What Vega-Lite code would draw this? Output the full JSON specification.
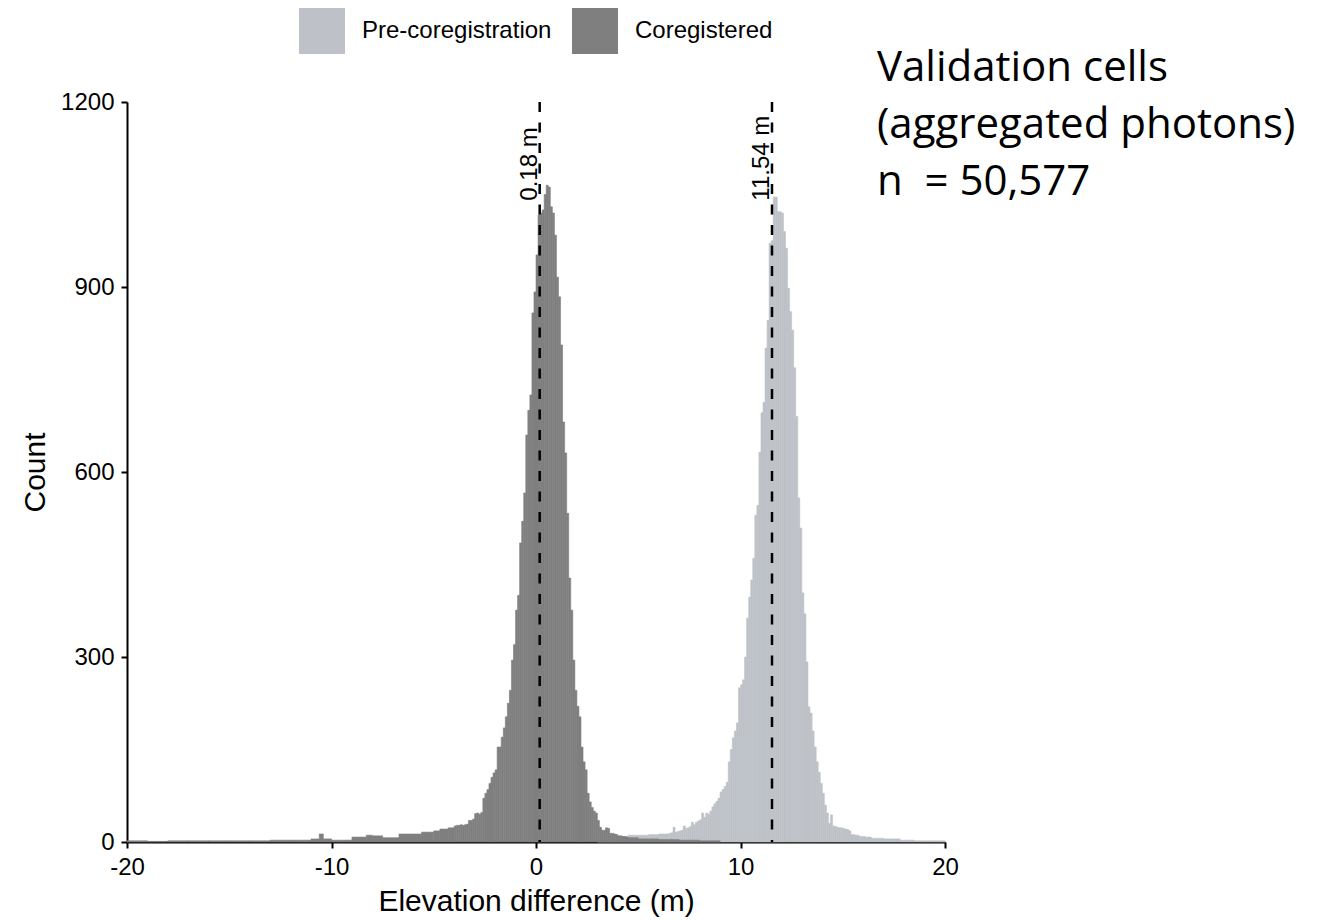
{
"$schema": "https://vega.github.io/schema/vega-lite/v6.json",
"width": 818, "height": 740,
"padding": {"left": 20, "top": 8, "right": 5, "bottom": 5},
"datasets": {
"pre": [
{"a":3.0,"b":3.5,"n":3},{"a":3.5,"b":4.0,"n":5},{"a":4.0,"b":4.5,"n":9},{"a":4.5,"b":5.0,"n":11},{"a":5.0,"b":5.5,"n":11},{"a":5.5,"b":6.0,"n":12},{"a":6.0,"b":6.5,"n":13},
{"a":6.5,"b":6.6,"n":14},{"a":6.6,"b":6.7,"n":15},{"a":6.7,"b":6.8,"n":24},{"a":6.8,"b":6.9,"n":16},{"a":6.9,"b":7.0,"n":17},
{"a":7.0,"b":7.1,"n":18},{"a":7.1,"b":7.2,"n":19},{"a":7.2,"b":7.3,"n":26},{"a":7.3,"b":7.4,"n":22},{"a":7.4,"b":7.5,"n":23},
{"a":7.5,"b":7.6,"n":25},{"a":7.6,"b":7.7,"n":32},{"a":7.7,"b":7.8,"n":28},{"a":7.8,"b":7.9,"n":32},{"a":7.9,"b":8.0,"n":34},
{"a":8.0,"b":8.1,"n":36},{"a":8.1,"b":8.2,"n":47},{"a":8.2,"b":8.3,"n":40},{"a":8.3,"b":8.4,"n":47},{"a":8.4,"b":8.5,"n":45},
{"a":8.5,"b":8.6,"n":50},{"a":8.6,"b":8.7,"n":57},{"a":8.7,"b":8.8,"n":62},{"a":8.8,"b":8.9,"n":66},{"a":8.9,"b":9.0,"n":71},
{"a":9.0,"b":9.1,"n":81},{"a":9.1,"b":9.2,"n":85},{"a":9.2,"b":9.3,"n":90},{"a":9.3,"b":9.4,"n":97},{"a":9.4,"b":9.5,"n":130},
{"a":9.5,"b":9.6,"n":150},{"a":9.6,"b":9.7,"n":169},{"a":9.7,"b":9.8,"n":180},{"a":9.8,"b":9.9,"n":193},{"a":9.9,"b":10.0,"n":250},
{"a":10.0,"b":10.1,"n":255},{"a":10.1,"b":10.2,"n":263},{"a":10.2,"b":10.3,"n":300},{"a":10.3,"b":10.4,"n":363},{"a":10.4,"b":10.5,"n":397},
{"a":10.5,"b":10.6,"n":425},{"a":10.6,"b":10.7,"n":460},{"a":10.7,"b":10.8,"n":530},{"a":10.8,"b":10.9,"n":546},{"a":10.9,"b":11.0,"n":632},
{"a":11.0,"b":11.1,"n":696},{"a":11.1,"b":11.2,"n":713},{"a":11.2,"b":11.3,"n":801},{"a":11.3,"b":11.4,"n":846},{"a":11.4,"b":11.5,"n":971},
{"a":11.5,"b":11.6,"n":975},{"a":11.6,"b":11.7,"n":1046},{"a":11.7,"b":11.8,"n":1046},{"a":11.8,"b":11.9,"n":1022},{"a":11.9,"b":12.0,"n":1022},
{"a":12.0,"b":12.1,"n":1020},{"a":12.1,"b":12.2,"n":990},{"a":12.2,"b":12.3,"n":963},{"a":12.3,"b":12.4,"n":898},{"a":12.4,"b":12.5,"n":860},
{"a":12.5,"b":12.6,"n":830},{"a":12.6,"b":12.7,"n":769},{"a":12.7,"b":12.8,"n":690},{"a":12.8,"b":12.9,"n":558},{"a":12.9,"b":13.0,"n":509},
{"a":13.0,"b":13.1,"n":404},{"a":13.1,"b":13.2,"n":370},{"a":13.2,"b":13.3,"n":292},{"a":13.3,"b":13.4,"n":219},{"a":13.4,"b":13.5,"n":209},
{"a":13.5,"b":13.6,"n":180},{"a":13.6,"b":13.7,"n":154},{"a":13.7,"b":13.8,"n":130},{"a":13.8,"b":13.9,"n":113},{"a":13.9,"b":14.0,"n":95},
{"a":14.0,"b":14.1,"n":79},{"a":14.1,"b":14.2,"n":60},{"a":14.2,"b":14.3,"n":47},{"a":14.3,"b":14.4,"n":30},{"a":14.4,"b":14.5,"n":44},
{"a":14.5,"b":14.6,"n":26},{"a":14.6,"b":14.7,"n":25},{"a":14.7,"b":14.8,"n":24},{"a":14.8,"b":14.9,"n":23},{"a":14.9,"b":15.0,"n":23},
{"a":15.0,"b":15.1,"n":22},{"a":15.1,"b":15.2,"n":21},{"a":15.2,"b":15.3,"n":20},{"a":15.3,"b":15.4,"n":18},
{"a":15.4,"b":15.6,"n":12},{"a":15.6,"b":15.8,"n":11},{"a":15.8,"b":16.1,"n":9},{"a":16.1,"b":16.4,"n":8},{"a":16.4,"b":17.0,"n":6},
{"a":17.0,"b":17.8,"n":5},{"a":17.8,"b":18.5,"n":3},{"a":18.5,"b":19.3,"n":2},{"a":19.3,"b":20.0,"n":2}
],
"coreg": [
{"a":-20,"b":-19,"n":2},{"a":-19,"b":-18,"n":1},{"a":-18,"b":-17,"n":2},{"a":-17,"b":-16,"n":2},{"a":-16,"b":-15,"n":2},
{"a":-15,"b":-14,"n":2},{"a":-14,"b":-13,"n":2},{"a":-13,"b":-12,"n":3},{"a":-12,"b":-11,"n":3},{"a":-11,"b":-10.6,"n":5},
{"a":-10.6,"b":-10.4,"n":13},{"a":-10.4,"b":-10,"n":5},{"a":-10,"b":-9,"n":3},{"a":-9,"b":-8.3,"n":8},{"a":-8.3,"b":-8,"n":11},
{"a":-8,"b":-7.5,"n":10},{"a":-7.5,"b":-6.7,"n":7},{"a":-6.7,"b":-5.6,"n":13},{"a":-5.6,"b":-5,"n":16},{"a":-5,"b":-4.7,"n":18},
{"a":-4.7,"b":-4.3,"n":21},{"a":-4.3,"b":-4.0,"n":23},
{"a":-4.0,"b":-3.9,"n":26},{"a":-3.9,"b":-3.8,"n":27},{"a":-3.8,"b":-3.7,"n":27},{"a":-3.7,"b":-3.6,"n":28},{"a":-3.6,"b":-3.5,"n":27},
{"a":-3.5,"b":-3.4,"n":28},{"a":-3.4,"b":-3.3,"n":29},{"a":-3.3,"b":-3.2,"n":35},{"a":-3.2,"b":-3.1,"n":35},{"a":-3.1,"b":-3.0,"n":37},
{"a":-3.0,"b":-2.9,"n":46},{"a":-2.9,"b":-2.8,"n":47},{"a":-2.8,"b":-2.7,"n":45},{"a":-2.7,"b":-2.6,"n":48},{"a":-2.6,"b":-2.5,"n":71},
{"a":-2.5,"b":-2.4,"n":79},{"a":-2.4,"b":-2.3,"n":85},{"a":-2.3,"b":-2.2,"n":95},{"a":-2.2,"b":-2.1,"n":105},{"a":-2.1,"b":-2.0,"n":112},
{"a":-2.0,"b":-1.9,"n":117},{"a":-1.9,"b":-1.8,"n":154},{"a":-1.8,"b":-1.7,"n":154},{"a":-1.7,"b":-1.6,"n":170},{"a":-1.6,"b":-1.5,"n":185},
{"a":-1.5,"b":-1.4,"n":203},{"a":-1.4,"b":-1.3,"n":225},{"a":-1.3,"b":-1.2,"n":246},{"a":-1.2,"b":-1.1,"n":295},{"a":-1.1,"b":-1.0,"n":320},
{"a":-1.0,"b":-0.9,"n":376},{"a":-0.9,"b":-0.8,"n":400},{"a":-0.8,"b":-0.7,"n":485},{"a":-0.7,"b":-0.6,"n":520},{"a":-0.6,"b":-0.5,"n":566},
{"a":-0.5,"b":-0.4,"n":660},{"a":-0.4,"b":-0.3,"n":700},{"a":-0.3,"b":-0.2,"n":725},{"a":-0.2,"b":-0.1,"n":858},{"a":-0.1,"b":0.0,"n":892},
{"a":0.0,"b":0.1,"n":952},{"a":0.1,"b":0.2,"n":1017},{"a":0.2,"b":0.3,"n":1020},{"a":0.3,"b":0.4,"n":1025},{"a":0.4,"b":0.5,"n":1050},
{"a":0.5,"b":0.6,"n":1065},{"a":0.6,"b":0.7,"n":1062},{"a":0.7,"b":0.8,"n":1030},{"a":0.8,"b":0.9,"n":1020},{"a":0.9,"b":1.0,"n":984},
{"a":1.0,"b":1.1,"n":916},{"a":1.1,"b":1.2,"n":884},{"a":1.2,"b":1.3,"n":806},{"a":1.3,"b":1.4,"n":681},{"a":1.4,"b":1.5,"n":631},
{"a":1.5,"b":1.6,"n":533},{"a":1.6,"b":1.7,"n":428},{"a":1.7,"b":1.8,"n":376},{"a":1.8,"b":1.9,"n":295},{"a":1.9,"b":2.0,"n":246},
{"a":2.0,"b":2.1,"n":220},{"a":2.1,"b":2.2,"n":203},{"a":2.2,"b":2.3,"n":154},{"a":2.3,"b":2.4,"n":130},{"a":2.4,"b":2.5,"n":117},
{"a":2.5,"b":2.6,"n":79},{"a":2.6,"b":2.7,"n":65},{"a":2.7,"b":2.8,"n":56},{"a":2.8,"b":2.9,"n":50},{"a":2.9,"b":3.0,"n":47},
{"a":3.0,"b":3.1,"n":35},{"a":3.1,"b":3.2,"n":24},{"a":3.2,"b":3.3,"n":19},{"a":3.3,"b":3.4,"n":19},{"a":3.4,"b":3.5,"n":23},
{"a":3.5,"b":3.6,"n":22},{"a":3.6,"b":3.7,"n":14},{"a":3.7,"b":3.8,"n":14},{"a":3.8,"b":3.9,"n":13},{"a":3.9,"b":4.0,"n":12},
{"a":4.0,"b":4.1,"n":10},{"a":4.1,"b":4.2,"n":10},{"a":4.2,"b":4.3,"n":9},{"a":4.3,"b":4.4,"n":9},{"a":4.4,"b":4.5,"n":8},
{"a":4.5,"b":5.0,"n":7},{"a":5.0,"b":6.0,"n":5},{"a":6.0,"b":7.0,"n":4},{"a":7.0,"b":8.0,"n":3},{"a":8.0,"b":9.0,"n":2}
],
"means": [{"m":0.18,"lab":"0.18 m"},{"m":11.54,"lab":"11.54 m"}]
},
"layer": [
{"data":{"name":"pre"},
 "mark":{"type":"bar","stroke":"#bec2c8","strokeWidth":0.6},
 "encoding":{
  "x":{"field":"a","type":"quantitative","scale":{"domain":[-20,20],"nice":false,"zero":false},
       "axis":{"values":[-20,-10,0,10,20],"title":"Elevation difference (m)","titlePadding":7,"labelFlush":false,"labelExpr":"replace(datum.label, '\u2212', '-')"}},
  "x2":{"field":"b"},
  "y":{"field":"n","type":"quantitative","stack":null,"scale":{"domain":[0,1200],"nice":false},
       "axis":{"values":[0,300,600,900,1200],"format":"d","title":"Count","titlePadding":10}},
  "y2":{"datum":0},
  "color":{"datum":"Pre-coregistration","type":"nominal",
           "scale":{"domain":["Pre-coregistration","Coregistered"],"range":["#bec2c8","#7f7f7f"]},
           "legend":{"title":null,"orient":"top","direction":"horizontal","symbolType":"square","symbolSize":2116,
                     "labelFontSize":24,"labelFont":"Liberation Sans","labelColor":"black","labelOffset":17,"labelLimit":400,
                     "columnPadding":20,"offset":48,"symbolStrokeWidth":0}}
 }},
{"data":{"name":"coreg"},
 "mark":{"type":"bar","stroke":"#7f7f7f","strokeWidth":0.6},
 "encoding":{
  "x":{"field":"a","type":"quantitative"},
  "x2":{"field":"b"},
  "y":{"field":"n","type":"quantitative","stack":null},
  "y2":{"datum":0},
  "color":{"datum":"Coregistered","type":"nominal"}
 }},
{"data":{"name":"means"},
 "mark":{"type":"rule","strokeDash":[10,10.5],"strokeWidth":2.5,"color":"black"},
 "encoding":{"x":{"field":"m","type":"quantitative"}}},
{"data":{"name":"means"},
 "mark":{"type":"text","angle":270,"align":"left","baseline":"alphabetic","dy":-3,"fontSize":24,"font":"Liberation Sans","color":"black"},
 "encoding":{"x":{"field":"m","type":"quantitative"},"y":{"datum":1040},"text":{"field":"lab"}}},
{"data":{"values":[{}]},
 "mark":{"type":"text","text":["Validation cells","(aggregated photons)","n\u00a0 = 50,577"],"align":"left","baseline":"alphabetic","lineHeight":57,"fontSize":42,"font":"Open Sans","color":"black"},
 "encoding":{"x":{"datum":16.67},"y":{"datum":1234}}}
],
"config": {
 "view":{"stroke":null},
 "font":"Liberation Sans",
 "axis":{"grid":false,"domainColor":"black","domainWidth":2,"tickColor":"black","tickWidth":2,"tickSize":6,
         "labelFontSize":24,"labelColor":"black","labelFont":"Liberation Sans","labelPadding":7,
         "titleFont":"Liberation Sans","titleFontSize":30,"titleFontWeight":"normal","titleColor":"black"},
 "legend":{"layout":{"top":{"anchor":"middle"}}}
}
}
